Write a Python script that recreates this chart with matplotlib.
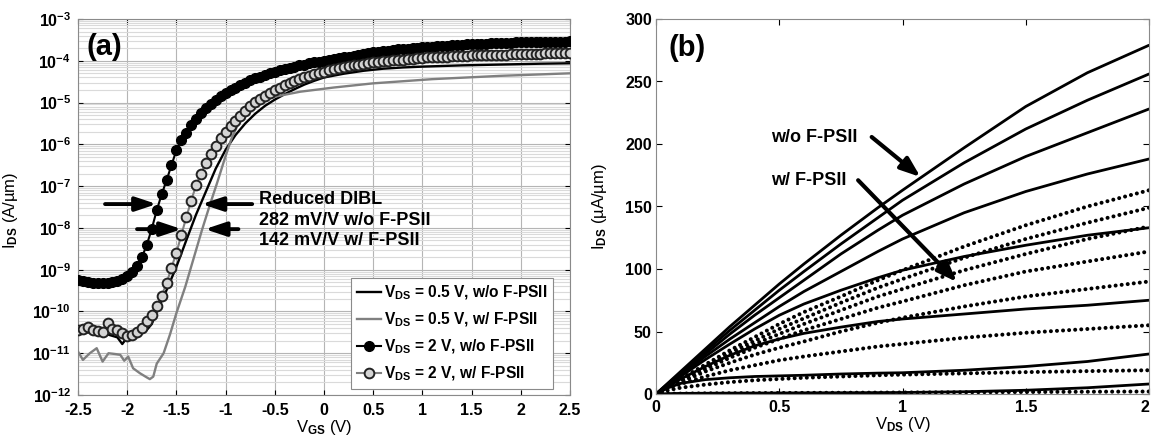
import numpy as np
import matplotlib
matplotlib.use('Agg')
import matplotlib.pyplot as plt
from matplotlib.ticker import FixedLocator, LogLocator, NullFormatter, FuncFormatter

plt.rcParams['font.family'] = ['Liberation Sans', 'DejaVu Sans']
plt.rcParams['font.weight'] = 'bold'
plt.rcParams['mathtext.fontset'] = 'custom'
plt.rcParams['mathtext.rm'] = 'Liberation Sans:bold'
plt.rcParams['mathtext.bf'] = 'Liberation Sans:bold'
plt.rcParams['mathtext.it'] = 'Liberation Sans:bold:italic'
plt.rcParams['axes.unicode_minus'] = False

# ---------------- panel (a) data : log10(I_DS [A/um]) ----------------
vgs = [-2.5, -2.45, -2.4, -2.35, -2.3, -2.25, -2.2, -2.15, -2.1, -2.05,
       -2.0, -1.95, -1.9, -1.85, -1.8, -1.75, -1.7, -1.65, -1.6, -1.55,
       -1.5, -1.45, -1.4, -1.35, -1.3, -1.25, -1.2, -1.15, -1.1, -1.05,
       -1.0, -0.95, -0.9, -0.85, -0.8, -0.75, -0.7, -0.65, -0.6, -0.55,
       -0.5, -0.45, -0.4, -0.35, -0.3, -0.25, -0.2, -0.15, -0.1, -0.05,
       0.0, 0.05, 0.1, 0.15, 0.2, 0.25, 0.3, 0.35, 0.4, 0.45,
       0.5, 0.55, 0.6, 0.65, 0.7, 0.75, 0.8, 0.85, 0.9, 0.95,
       1.0, 1.05, 1.1, 1.15, 1.2, 1.25, 1.3, 1.35, 1.4, 1.45,
       1.5, 1.55, 1.6, 1.65, 1.7, 1.75, 1.8, 1.85, 1.9, 1.95,
       2.0, 2.05, 2.1, 2.15, 2.2, 2.25, 2.3, 2.35, 2.4, 2.45, 2.5]

log_vd2_wo = [-9.25, -9.28, -9.30, -9.31, -9.32, -9.32, -9.31, -9.29, -9.26, -9.22,
              -9.16, -9.06, -8.92, -8.70, -8.40, -8.02, -7.58, -7.20, -6.86, -6.50,
              -6.14, -5.90, -5.72, -5.54, -5.39, -5.26, -5.14, -5.03, -4.94, -4.85,
              -4.78, -4.71, -4.64, -4.58, -4.52, -4.47, -4.42, -4.38, -4.34, -4.30,
              -4.26, -4.23, -4.20, -4.17, -4.14, -4.11, -4.09, -4.06, -4.04, -4.02,
              -4.00, -3.98, -3.96, -3.94, -3.92, -3.90, -3.88, -3.86, -3.84, -3.82,
              -3.80, -3.79, -3.77, -3.76, -3.74, -3.73, -3.72, -3.71, -3.70, -3.69,
              -3.68, -3.67, -3.66, -3.65, -3.64, -3.64, -3.63, -3.62, -3.62, -3.61,
              -3.60, -3.60, -3.59, -3.59, -3.58, -3.58, -3.57, -3.57, -3.57, -3.56,
              -3.56, -3.56, -3.55, -3.55, -3.55, -3.55, -3.54, -3.54, -3.54, -3.54, -3.53]

log_vd2_w = [-10.45, -10.42, -10.38, -10.45, -10.48, -10.50, -10.28, -10.42, -10.45, -10.52,
             -10.58, -10.56, -10.50, -10.40, -10.24, -10.08, -9.88, -9.62, -9.33, -8.95,
             -8.60, -8.17, -7.75, -7.35, -6.98, -6.70, -6.44, -6.23, -6.04, -5.86,
             -5.71, -5.57, -5.45, -5.31, -5.20, -5.09, -4.99, -4.91, -4.84, -4.77,
             -4.71, -4.65, -4.59, -4.54, -4.49, -4.44, -4.40, -4.36, -4.32, -4.29,
             -4.26, -4.23, -4.20, -4.18, -4.15, -4.13, -4.11, -4.09, -4.07, -4.06,
             -4.04, -4.03, -4.01, -4.00, -3.99, -3.98, -3.97, -3.96, -3.95, -3.94,
             -3.93, -3.92, -3.92, -3.91, -3.90, -3.90, -3.89, -3.89, -3.88, -3.88,
             -3.87, -3.87, -3.86, -3.86, -3.86, -3.85, -3.85, -3.85, -3.84, -3.84,
             -3.84, -3.83, -3.83, -3.83, -3.83, -3.82, -3.82, -3.82, -3.82, -3.81, -3.81]

vgs_wo05 = [-2.5, -2.4, -2.3, -2.2, -2.1, -2.05, -2.0, -1.9, -1.8, -1.75,
            -1.7, -1.65, -1.6, -1.5, -1.4, -1.3, -1.2, -1.1, -1.0, -0.9,
            -0.8, -0.7, -0.6, -0.5, -0.4, -0.3, -0.2, -0.1, 0.0, 0.2,
            0.4, 0.6, 0.8, 1.0, 1.4, 1.8, 2.2, 2.5]
log_vd05_wo = [-10.45, -10.50, -10.52, -10.55, -10.62, -10.78, -10.62, -10.54, -10.44, -10.30,
               -10.00, -9.75, -9.49, -8.93, -8.30, -7.68, -7.13, -6.58, -6.13, -5.78,
               -5.50, -5.27, -5.08, -4.93, -4.80, -4.68, -4.57, -4.48, -4.40, -4.31,
               -4.24, -4.19, -4.16, -4.14, -4.11, -4.09, -4.07, -4.06]

vgs_w05 = [-2.5, -2.45, -2.38, -2.31, -2.25, -2.19, -2.12, -2.07, -2.03, -1.99,
           -1.94, -1.87, -1.80, -1.77, -1.735, -1.70, -1.63, -1.565, -1.50, -1.41,
           -1.33, -1.24, -1.16, -1.09, -1.0, -0.94, -0.87, -0.79, -0.68, -0.58,
           -0.5, -0.35, -0.24, 0.1, 0.5, 1.1, 1.8, 2.5]
log_vd05_w = [-10.96, -11.16, -11.00, -10.88, -11.20, -11.00, -11.02, -11.04, -11.18, -11.08,
              -11.36, -11.48, -11.58, -11.62, -11.56, -11.25, -11.00, -10.55, -10.04, -9.41,
              -8.77, -8.05, -7.45, -6.95, -6.28, -5.86, -5.50, -5.22, -5.02, -4.92,
              -4.86, -4.79, -4.74, -4.64, -4.54, -4.44, -4.36, -4.30]

legend_a = [r'V$_{\mathrm{DS}}$ = 0.5 V, w/o F-PSII',
            r'V$_{\mathrm{DS}}$ = 0.5 V, w/ F-PSII',
            r'V$_{\mathrm{DS}}$ = 2 V, w/o F-PSII',
            r'V$_{\mathrm{DS}}$ = 2 V, w/ F-PSII']
dibl_lines = ['Reduced DIBL', '282 mV/V w/o F-PSII', '142 mV/V w/ F-PSII']

# ---------------- panel (b) data : I_DS [uA/um] ----------------
vds = [0, 0.05, 0.1, 0.2, 0.3, 0.4, 0.5, 0.6, 0.75, 0.9, 1.0, 1.25, 1.5, 1.75, 2.0]
ids_wo = [
    [0, 9, 18, 36, 54, 71, 88, 104, 127, 149, 163, 197, 230, 257, 279],
    [0, 8.5, 17, 34, 51, 67, 83, 98, 120, 141, 155, 185, 212, 235, 256],
    [0, 8, 16, 32, 48, 63, 77, 91, 112, 131, 143, 168, 190, 209, 228],
    [0, 7.5, 15, 30, 44, 57, 70, 82, 98, 114, 124, 145, 162, 176, 188],
    [0, 7, 14, 27.5, 40, 52, 63, 72, 83, 93, 99, 110, 119, 127, 133],
    [0, 6, 12, 22, 31, 38.5, 44, 48.5, 53.5, 58, 60, 64, 68, 71, 75],
    [0, 5, 8.5, 11.5, 13, 14, 14.5, 15, 16, 16.7, 17, 19, 22, 26, 32],
    [0, 0.3, 0.5, 0.6, 0.7, 0.75, 0.8, 0.9, 1, 1.1, 1.2, 1.8, 3, 5, 8],
]
ids_w = [
    [0, 6, 12, 23.5, 35, 45.5, 56, 65.5, 78, 91, 99, 118, 135, 150, 163],
    [0, 5.8, 11.5, 22.5, 33, 42.5, 52, 60.5, 73, 85, 92, 109, 124, 137, 149],
    [0, 5.5, 11, 21, 31, 40, 48, 56, 67, 78, 84, 99, 112, 124, 134],
    [0, 5.3, 10.5, 20, 29, 37, 44, 51, 60, 69, 74, 87, 98, 106, 114],
    [0, 5, 9.5, 18, 25, 31.5, 37, 42, 50, 57, 61, 70, 78, 84, 90],
    [0, 4.5, 8, 14, 19, 23, 27, 30, 34, 38, 40, 45, 49, 52, 55],
    [0, 3, 5, 7.5, 9.5, 11, 12, 13, 14, 15, 15.5, 16.5, 17.5, 18.3, 19],
    [0, 0.2, 0.3, 0.5, 0.6, 0.7, 0.8, 0.9, 1, 1.1, 1.2, 1.4, 1.6, 1.8, 2],
]

# ---------------- figure ----------------
W, H = 1151, 440
fig = plt.figure(figsize=(W / 100, H / 100), dpi=100)

def px_axes(x0, y0, x1, y1):
    return fig.add_axes([x0 / W, 1 - y1 / H, (x1 - x0) / W, (y1 - y0) / H])

axa = px_axes(78, 19, 570, 395)
axb = px_axes(656, 19, 1149, 394)

TICK_FS = 11.5
LAB_FS = 12

# ---- panel (a)
to_lin = lambda arr: 10.0 ** np.asarray(arr)
axa.plot(vgs_wo05, to_lin(log_vd05_wo), color='black', lw=1.7, label=legend_a[0], zorder=3)
axa.plot(vgs_w05, to_lin(log_vd05_w), color='#808080', lw=1.7, label=legend_a[1], zorder=3)
axa.plot(vgs, to_lin(log_vd2_wo), color='black', lw=1.5, marker='o', ms=7,
         mfc='black', mec='black', label=legend_a[2], zorder=4)
axa.plot(vgs, to_lin(log_vd2_w), color='#808080', lw=1.5, marker='o', ms=7,
         mfc='#d4d4d4', mec='#222222', mew=1.4, label=legend_a[3], zorder=5)

axa.set_yscale('log')
axa.set_xlim(-2.5, 2.5)
axa.set_ylim(1e-12, 1e-3)
axa.xaxis.set_major_locator(FixedLocator([-2.5, -2, -1.5, -1, -0.5, 0, 0.5, 1, 1.5, 2, 2.5]))
axa.xaxis.set_major_formatter(FuncFormatter(lambda v, p: ('%g' % v)))
axa.yaxis.set_major_locator(FixedLocator([10.0 ** e for e in range(-12, -2)]))
axa.yaxis.set_major_formatter(FuncFormatter(
    lambda v, p: r'10$^{\mathrm{%d}}$' % int(round(np.log10(v)))))
axa.yaxis.set_minor_locator(LogLocator(base=10, subs=np.arange(2, 10), numticks=50))
axa.yaxis.set_minor_formatter(NullFormatter())
axa.grid(which='major', color='#b5b5b5', lw=0.8, zorder=0)
axa.grid(which='minor', axis='y', color='#dadada', lw=0.8, zorder=0)
axa.set_axisbelow(True)
axa.tick_params(which='both', direction='in', top=True, right=True, labelsize=TICK_FS)
axa.tick_params(which='minor', length=0)
axa.tick_params(axis='y', pad=5)
axa.tick_params(axis='x', pad=6)
for s in axa.spines.values():
    s.set_color('#8a8a8a')
axa.set_xlabel(r'V$_{\mathrm{GS}}$ (V)', fontsize=LAB_FS, labelpad=0)
axa.set_ylabel(r'I$_{\mathrm{DS}}$ (A/µm)', fontsize=LAB_FS)
axa.yaxis.set_label_coords(-0.118, 0.49)

leg = axa.legend(loc='upper left', bbox_to_anchor=(0.555, 0.310), borderaxespad=0,
                 fontsize=11.2, frameon=True, fancybox=False, framealpha=1,
                 edgecolor='#8a8a8a', handlelength=1.6, handletextpad=0.15,
                 labelspacing=0.55, borderpad=0.35)
leg.get_frame().set_linewidth(0.8)

axa.text(0.018, 0.926, '(a)', transform=axa.transAxes, fontsize=21,
         fontweight='bold', ha='left', va='center')

arrow_kw = dict(arrowstyle='-|>,head_length=0.9,head_width=0.3', lw=2.8,
                color='black', shrinkA=0, shrinkB=0, mutation_scale=14)
for tail, tip in [((-2.225, 10 ** -7.43), (-1.70, 10 ** -7.43)),
                  ((-1.90, 10 ** -8.03), (-1.446, 10 ** -8.03)),
                  ((-0.73, 10 ** -7.43), (-1.243, 10 ** -7.43)),
                  ((-0.87, 10 ** -8.03), (-1.21, 10 ** -8.03))]:
    axa.annotate('', xy=tip, xytext=tail, arrowprops=arrow_kw, zorder=6)

for yf, s in zip([0.508, 0.453, 0.399], dibl_lines):
    axa.text(0.368, yf, s, transform=axa.transAxes, fontsize=13,
             fontweight='bold', ha='left', va='baseline')

# ---- panel (b)
for ys in ids_wo:
    axb.plot(vds, ys, color='black', lw=2.0, solid_capstyle='round',
             solid_joinstyle='round')
for ys in ids_w:
    axb.plot(vds, ys, color='black', lw=2.9, linestyle=(0, (0.01, 1.5)),
             dash_capstyle='round')

axb.set_xlim(0, 2)
axb.set_ylim(0, 300)
axb.xaxis.set_major_locator(FixedLocator([0, 0.5, 1, 1.5, 2]))
axb.xaxis.set_major_formatter(FuncFormatter(lambda v, p: ('%g' % v)))
axb.yaxis.set_major_locator(FixedLocator([0, 50, 100, 150, 200, 250, 300]))
axb.tick_params(direction='in', top=True, right=True, labelsize=TICK_FS, length=4)
axb.tick_params(axis='x', pad=4)
axb.tick_params(axis='y', pad=3)
for s in axb.spines.values():
    s.set_color('#8a8a8a')
axb.set_xlabel(r'V$_{\mathrm{DS}}$ (V)', fontsize=LAB_FS, labelpad=0)
axb.set_ylabel(r'I$_{\mathrm{DS}}$ (µA/µm)', fontsize=LAB_FS)
axb.yaxis.set_label_coords(-0.095, 0.5)
fig.canvas.draw()
axb.get_xticklabels()[-1].set_horizontalalignment('right')

axb.text(0.026, 0.924, '(b)', transform=axb.transAxes, fontsize=21,
         fontweight='bold', ha='left', va='center')
axb.text(0.467, 205.6, 'w/o F-PSII', fontsize=13, fontweight='bold', ha='left', va='center')
axb.text(0.467, 171, 'w/ F-PSII', fontsize=13, fontweight='bold', ha='left', va='center')
arrow_b = dict(arrowstyle='-|>,head_length=0.8,head_width=0.3', lw=3.0,
               color='black', shrinkA=0, shrinkB=0, mutation_scale=15)
axb.annotate('', xy=(1.073, 173.6), xytext=(0.875, 205.6), arrowprops=arrow_b)
axb.annotate('', xy=(1.221, 89.6), xytext=(0.82, 171), arrowprops=arrow_b)

fig.savefig('out.png', dpi=100)
